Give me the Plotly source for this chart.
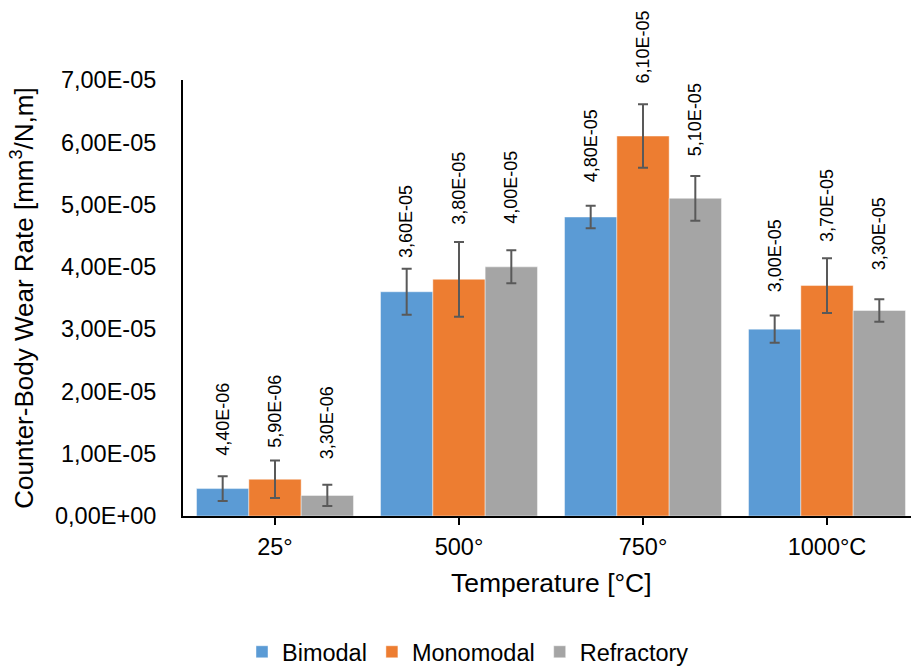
import plotly.graph_objects as go

categories = ["25°", "500°", "750°", "1000°C"]
series_names = ["Bimodal", "Monomodal", "Refractory"]
bimodal = [4.4e-06, 3.6e-05, 4.8e-05, 3.0e-05]
monomodal = [5.9e-06, 3.8e-05, 6.1e-05, 3.7e-05]
refractory = [3.3e-06, 4.0e-05, 5.1e-05, 3.3e-05]
bimodal_err = [2.0e-06, 3.7e-06, 1.8e-06, 2.2e-06]
monomodal_err = [3.0e-06, 6.0e-06, 5.1e-06, 4.4e-06]
refractory_err = [1.7e-06, 2.65e-06, 3.6e-06, 1.8e-06]
y_tick_values = [0, 1e-05, 2e-05, 3e-05, 4e-05, 5e-05, 6e-05, 7e-05]
y_tick_labels = ["0,00E+00", "1,00E-05", "2,00E-05", "3,00E-05",
                 "4,00E-05", "5,00E-05", "6,00E-05", "7,00E-05"]

# style: colours and pixel offsets of the value labels above each bar
colors = ["#5B9BD5", "#ED7D31", "#A5A5A5"]
label_shift_px = [[34, 35, 36, 38], [32, 55, 53, 44], [37, 44, 43, 41]]

FONT = "Liberation Sans, Arial, sans-serif"
BARGAP = 0.147

values = [bimodal, monomodal, refractory]
errors = [bimodal_err, monomodal_err, refractory_err]

fig = go.Figure()
for name, vals, errs, col in zip(series_names, values, errors, colors):
    fig.add_trace(go.Bar(
        name=name, x=list(range(len(categories))), y=vals,
        marker=dict(color=col, line=dict(color="rgba(255,255,255,0.55)", width=0.8)),
        error_y=dict(type="data", array=errs, visible=True, color="#595959",
                     thickness=2, width=5),
    ))

bar_w = (1 - BARGAP) / len(series_names)
annotations = []
for j, (vals, shifts) in enumerate(zip(values, label_shift_px)):
    for i, v in enumerate(vals):
        annotations.append(dict(
            x=i + (j - 1) * bar_w, y=v, xref="x", yref="y",
            text=f"{v:.2E}".replace(".", ","), showarrow=False, textangle=-90,
            xanchor="center", yanchor="bottom", yshift=shifts[i] - 3,
            font=dict(family=FONT, size=18, color="#000000"),
        ))

annotations.append(dict(
    x=1.5, xref="x", y=-(583 - 516) / (516 - 80), yref="paper", yanchor="middle",
    text="Temperature [°C]", showarrow=False,
    font=dict(family=FONT, size=26.5, color="#000000"),
))

fig.update_layout(
    width=911, height=671, autosize=False,
    margin=dict(l=183, r=0, t=80, b=155, pad=0),
    paper_bgcolor="white", plot_bgcolor="white",
    barmode="group", bargap=BARGAP, bargroupgap=0,
    font=dict(family=FONT, size=23.5, color="#000000"),
    showlegend=True,
    legend=dict(orientation="h", xref="container", yref="container",
                x=468 / 911, xanchor="center", y=1 - 652 / 671, yanchor="middle",
                font=dict(family=FONT, size=23.5, color="#000000"),
                itemwidth=30, tracegroupgap=0),
    annotations=annotations,
)
fig.update_xaxes(
    range=[-0.5, 3.5 - 8 / 184], tickmode="array",
    tickvals=list(range(len(categories))), ticktext=categories,
    tickson="boundaries", ticks="outside", ticklen=7, tickwidth=2, tickcolor="black",
    showline=True, linecolor="black", linewidth=2, showgrid=False, zeroline=False,
    tickfont=dict(family=FONT, size=23.5, color="#000000"), ticklabelstandoff=2,
)
fig.update_yaxes(
    range=[0, 7e-05], tickmode="array", tickvals=y_tick_values, ticktext=y_tick_labels,
    showline=True, linecolor="black", linewidth=2, showgrid=False, zeroline=False,
    ticks="", tickfont=dict(family=FONT, size=23.5, color="#000000"),
    ticklabelstandoff=20,
    title=dict(text="Counter-Body Wear Rate [mm<sup>3</sup>/N,m]",
               font=dict(family=FONT, size=26, color="#000000"), standoff=14),
)

fig.write_html("out.html", config={"displayModeBar": False},
               post_script="document.body.style.margin='0';")
